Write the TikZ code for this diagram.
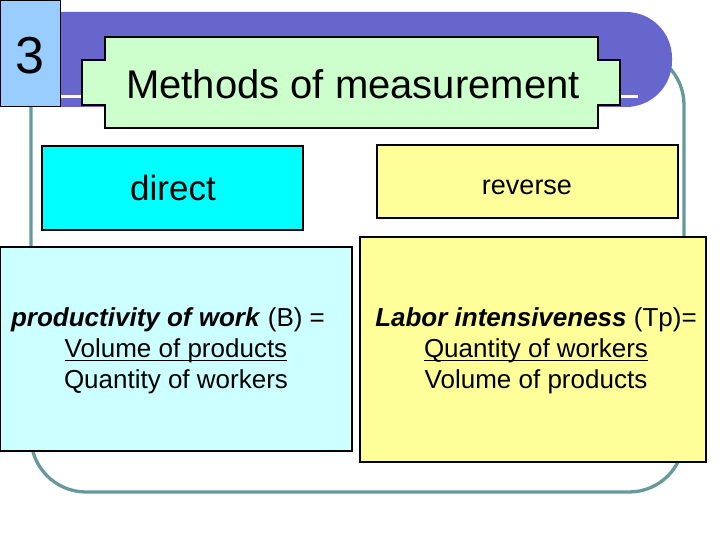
\documentclass[tikz,border=0pt]{standalone}
\usepackage{fontspec}
\setmainfont{Liberation Sans}
\definecolor{numblue}{HTML}{99CCFF}
\definecolor{bannerpurple}{HTML}{6666CC}
\definecolor{titlegreen}{HTML}{CCFFCC}
\definecolor{frameteal}{HTML}{669999}
\definecolor{directcyan}{HTML}{00FFFF}
\definecolor{revyellow}{HTML}{FFFF99}
\definecolor{lightcyan}{HTML}{CCFFFF}
\newsavebox\ulbox
\newcommand\undl[1]{\sbox\ulbox{#1}\rlap{\usebox\ulbox}\rule[-4.4pt]{\wd\ulbox}{1.3pt}}
\tikzset{
  boxstyle/.style={draw=black, line width=1.2pt, inner sep=0pt},
  bodytext/.style={anchor=base, inner sep=0pt, font=\fontsize{26}{31}\selectfont},
}
\begin{document}
\begin{tikzpicture}[x=1pt,y=-1pt]
\useasboundingbox (0,0) rectangle (720,540);
% teal frame
\draw[frameteal, line width=3.3pt, rounded corners=55pt] (31,50) rectangle (684,492);
% purple banner
\fill[bannerpurple] (55,12) [rounded corners=46pt] -- (672,12) -- (672,107) [sharp corners] -- (55,107) -- cycle;
\draw[white, line width=3pt] (60,97) -- (638,97);
% title shape
\filldraw[fill=titlegreen, draw=black, line width=1.2pt]
  (105,37) -- (598,37) -- (598,60) -- (620,60) -- (620,105) -- (598,105) -- (598,128)
  -- (105,128) -- (105,105) -- (82,105) -- (82,60) -- (105,60) -- cycle;
\node[anchor=base, inner sep=0pt, font=\fontsize{40}{48}\selectfont] (title) at (353,99) {Methods of measurement};
% number box
\node[boxstyle, fill=numblue, anchor=north west, minimum width=60pt, minimum height=106pt] (num) at (0,0) {};
\node[anchor=base, inner sep=0pt, font=\fontsize{52}{60}\selectfont] (numtxt) at (30,74) {3};
% direct / reverse
\node[boxstyle, fill=directcyan, minimum width=261pt, minimum height=84pt] (direct) at (172.5,188) {};
\node[anchor=base, inner sep=0pt, font=\fontsize{35}{42}\selectfont] (directtxt) at (173,201) {direct};
\node[boxstyle, fill=revyellow, minimum width=301pt, minimum height=73pt] (reverse) at (527.5,181.5) {};
\node[anchor=base, inner sep=0pt, font=\fontsize{27}{32}\selectfont] (reversetxt) at (527,195) {reverse};
% formula boxes
\node[boxstyle, fill=lightcyan, minimum width=352pt, minimum height=204pt] (leftbox) at (176,349) {};
\node[bodytext] (l1) at (168,326) {\textbf{\textit{productivity of work}} (B) =};
\node[bodytext] (l2) at (176,357) {\undl{Volume of products}};
\node[bodytext] (l3) at (176,388) {Quantity of workers};
\node[boxstyle, fill=revyellow, minimum width=346pt, minimum height=225pt] (rightbox) at (533,349.5) {};
\node[bodytext] (r1) at (536,326) {\textbf{\textit{Labor intensiveness}} (Tp)=};
\node[bodytext] (r2) at (536,357) {\undl{Quantity of workers}};
\node[bodytext] (r3) at (536,388) {Volume of products};
\end{tikzpicture}
\end{document}
